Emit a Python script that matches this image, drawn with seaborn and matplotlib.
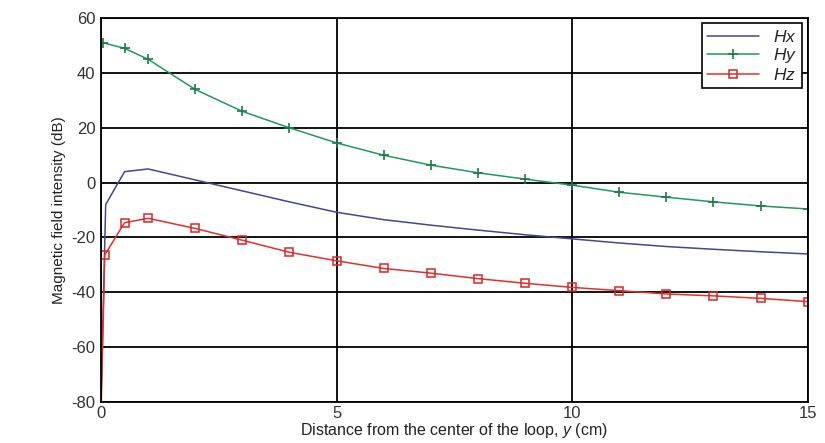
import matplotlib
matplotlib.use("Agg")
import matplotlib.pyplot as plt
import seaborn as sns
import pandas as pd

x_hx = [0.0, 0.1, 0.5, 1, 2, 3, 4, 5, 6, 7, 8, 9, 10, 11, 12, 13, 14, 15]
hx = [-80, -8, 4, 5, 1, -3, -7, -10.8, -13.5, -15.5, -17.3, -19, -20.5, -22, -23.3, -24.3, -25.2, -26]

x_hy = [0.05, 0.5, 1, 2, 3, 4, 5, 6, 7, 8, 9, 10, 11, 12, 13, 14, 15]
hy = [51, 49, 45, 34, 26, 20, 14.5, 10.0, 6.4, 3.6, 1.3, -0.9, -3.5, -5.3, -7, -8.5, -9.6]

x_hz = [0.0, 0.08, 0.5, 1, 2, 3, 4, 5, 6, 7, 8, 9, 10, 11, 12, 13, 14, 15]
hz = [-85, -26.4, -14.6, -13, -16.7, -21, -25.4, -28.5, -31.3, -33, -35, -36.7, -38.2, -39.4, -40.6, -41.3, -42.2, -43.4]

x_ticks = [0, 5, 10, 15]
y_ticks = [-80, -60, -40, -20, 0, 20, 40, 60]

sns.set_style("white")
plt.rcParams['font.family'] = ['Liberation Sans', 'DejaVu Sans']
plt.rcParams['mathtext.fontset'] = 'custom'
plt.rcParams['mathtext.it'] = 'Liberation Sans:italic'
plt.rcParams['mathtext.rm'] = 'Liberation Sans'
plt.rcParams['axes.unicode_minus'] = False

fig = plt.figure(figsize=(8.25, 4.43), dpi=100)
ax = fig.add_axes([0.1224, 0.0926, 0.8566, 0.8664])

df_x = pd.DataFrame({"x": x_hx, "v": hx})
df_y = pd.DataFrame({"x": x_hy, "v": hy})
df_z = pd.DataFrame({"x": x_hz, "v": hz})

sns.lineplot(data=df_x, x="x", y="v", ax=ax, color="#45468f", lw=1.1,
             label="$Hx$", sort=False)
sns.lineplot(data=df_y, x="x", y="v", ax=ax, color="#1f9a5a", lw=1.1,
             marker="+", markersize=7, markeredgewidth=1.2, markeredgecolor="#1f7a48",
             label="$Hy$", sort=False)
sns.lineplot(data=df_z, x="x", y="v", ax=ax, color="#e0302a", lw=1.1,
             marker="s", markersize=5.5, markerfacecolor="none", markeredgewidth=1.1,
             markeredgecolor="#d8262a", label="$Hz$", sort=False)

ax.set_xlim(0, 15)
ax.set_ylim(-80, 60)
ax.set_xticks(x_ticks)
ax.set_yticks(y_ticks)
ax.grid(True, color="black", lw=1.3)
ax.set_axisbelow(True)
for s in ax.spines.values():
    s.set_color("black")
    s.set_linewidth(1.3)
ax.tick_params(axis="both", labelsize=12, colors="#333333", length=2, direction="out")
ax.tick_params(axis="x", pad=1)
ax.tick_params(axis="y", pad=2)
ax.set_xlabel("Distance from the center of the loop, $y$ (cm)", fontsize=11.5, labelpad=0, color="#222222")
ax.set_ylabel("Magnetic field intensity (dB)", fontsize=11, labelpad=4, color="#222222")

leg = ax.legend(loc="upper right", fontsize=12.5, frameon=True, fancybox=False,
                edgecolor="black", borderpad=0.3, labelspacing=0.1,
                handlelength=3.0, borderaxespad=0.3)
leg.get_frame().set_linewidth(1.2)
leg.get_frame().set_alpha(1)

fig.savefig("out.png", dpi=100)
